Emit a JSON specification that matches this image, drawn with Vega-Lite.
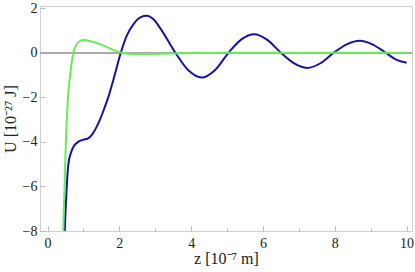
{
  "$schema": "https://vega.github.io/schema/vega-lite/v6.json",
  "autosize": {"type": "none"},
  "padding": {"left": 40, "top": 6, "right": 3, "bottom": 41},
  "width": 372,
  "height": 225,
  "background": "white",
  "config": {
    "view": {"stroke": "#cfcfcf", "strokeWidth": 1},
    "axis": {
      "labelFont": "Liberation Serif",
      "titleFont": "Liberation Serif",
      "labelFontSize": 14,
      "titleFontSize": 16,
      "titleFontWeight": "normal",
      "labelColor": "#222",
      "titleColor": "#222",
      "domain": false,
      "grid": false,
      "tickColor": "#bbbbbb",
      "tickWidth": 1
    }
  },
  "data": {
    "values": [
      {"s": "blue", "z": 0.455, "U": -9.5},
      {"s": "blue", "z": 0.48, "U": -8},
      {"s": "blue", "z": 0.505, "U": -7},
      {"s": "blue", "z": 0.535, "U": -6},
      {"s": "blue", "z": 0.58, "U": -5},
      {"s": "blue", "z": 0.65, "U": -4.5},
      {"s": "blue", "z": 0.73, "U": -4.2},
      {"s": "blue", "z": 0.85, "U": -4.0},
      {"s": "blue", "z": 1.0, "U": -3.9},
      {"s": "blue", "z": 1.12, "U": -3.85},
      {"s": "blue", "z": 1.25, "U": -3.65},
      {"s": "blue", "z": 1.36, "U": -3.35},
      {"s": "blue", "z": 1.46, "U": -3.0},
      {"s": "blue", "z": 1.58, "U": -2.5},
      {"s": "blue", "z": 1.69, "U": -2.0},
      {"s": "blue", "z": 1.87, "U": -1.0},
      {"s": "blue", "z": 2.04, "U": 0},
      {"s": "blue", "z": 2.2, "U": 0.75},
      {"s": "blue", "z": 2.4, "U": 1.3},
      {"s": "blue", "z": 2.6, "U": 1.6},
      {"s": "blue", "z": 2.76, "U": 1.66},
      {"s": "blue", "z": 2.95, "U": 1.5},
      {"s": "blue", "z": 3.16, "U": 1.05},
      {"s": "blue", "z": 3.56, "U": 0},
      {"s": "blue", "z": 3.93, "U": -0.8},
      {"s": "blue", "z": 4.29, "U": -1.11},
      {"s": "blue", "z": 4.66, "U": -0.78},
      {"s": "blue", "z": 5.04, "U": 0},
      {"s": "blue", "z": 5.4, "U": 0.6},
      {"s": "blue", "z": 5.75, "U": 0.83},
      {"s": "blue", "z": 6.12, "U": 0.58},
      {"s": "blue", "z": 6.5, "U": 0},
      {"s": "blue", "z": 6.87, "U": -0.48},
      {"s": "blue", "z": 7.23, "U": -0.68},
      {"s": "blue", "z": 7.6, "U": -0.47},
      {"s": "blue", "z": 7.97, "U": 0},
      {"s": "blue", "z": 8.33, "U": 0.38},
      {"s": "blue", "z": 8.7, "U": 0.54},
      {"s": "blue", "z": 9.06, "U": 0.37},
      {"s": "blue", "z": 9.42, "U": 0},
      {"s": "blue", "z": 9.71, "U": -0.31},
      {"s": "blue", "z": 10.0, "U": -0.45},
      {"s": "green", "z": 0.425, "U": -9.5},
      {"s": "green", "z": 0.44, "U": -8},
      {"s": "green", "z": 0.475, "U": -6},
      {"s": "green", "z": 0.51, "U": -4},
      {"s": "green", "z": 0.57, "U": -2},
      {"s": "green", "z": 0.63, "U": -1},
      {"s": "green", "z": 0.72, "U": 0},
      {"s": "green", "z": 0.8, "U": 0.35},
      {"s": "green", "z": 0.9, "U": 0.52},
      {"s": "green", "z": 1.02, "U": 0.57},
      {"s": "green", "z": 1.2, "U": 0.52},
      {"s": "green", "z": 1.55, "U": 0.33},
      {"s": "green", "z": 1.8, "U": 0.15},
      {"s": "green", "z": 2.06, "U": 0},
      {"s": "green", "z": 2.35, "U": -0.05},
      {"s": "green", "z": 2.8, "U": -0.06},
      {"s": "green", "z": 3.4, "U": -0.03},
      {"s": "green", "z": 4.2, "U": -0.01},
      {"s": "green", "z": 5.2, "U": 0},
      {"s": "green", "z": 10.0, "U": 0}
    ]
  },
  "layer": [
    {
      "mark": {"type": "rule", "color": "#aaaaaa", "strokeWidth": 1.5},
      "encoding": {"y": {"datum": 0, "type": "quantitative"}}
    },
    {
      "mark": {"type": "line", "strokeWidth": 2, "interpolate": "monotone", "clip": true},
      "encoding": {
        "x": {
          "field": "z", "type": "quantitative",
          "scale": {"domain": [-0.21, 10.15], "nice": false, "zero": false},
          "axis": {
            "title": "z [10⁻⁷ m]",
            "values": [0,1,2,3,4,5,6,7,8,9,10],
            "labelExpr": "datum.value % 2 == 0 ? datum.label : ''",
            "tickSize": {"condition": {"test": "datum.value % 2 == 0", "value": -5}, "value": -3},
            "labelPadding": 10,
            "titlePadding": 0
          }
        },
        "y": {
          "field": "U", "type": "quantitative",
          "scale": {"domain": [-8, 2.1], "nice": false, "zero": false},
          "axis": {
            "title": "U [10⁻²⁷ J]",
            "values": [-8,-7,-6,-5,-4,-3,-2,-1,0,1,2],
            "labelExpr": "datum.value % 2 == 0 ? datum.label : ''",
            "tickSize": {"condition": {"test": "datum.value % 2 == 0", "value": -5}, "value": -3},
            "labelPadding": 8,
            "titlePadding": 4
          }
        },
        "color": {
          "field": "s", "type": "nominal",
          "scale": {"domain": ["blue", "green"], "range": ["#1414a0", "#66ee55"]},
          "legend": null
        },
        "order": {"field": "z", "type": "quantitative"}
      }
    }
  ]
}
